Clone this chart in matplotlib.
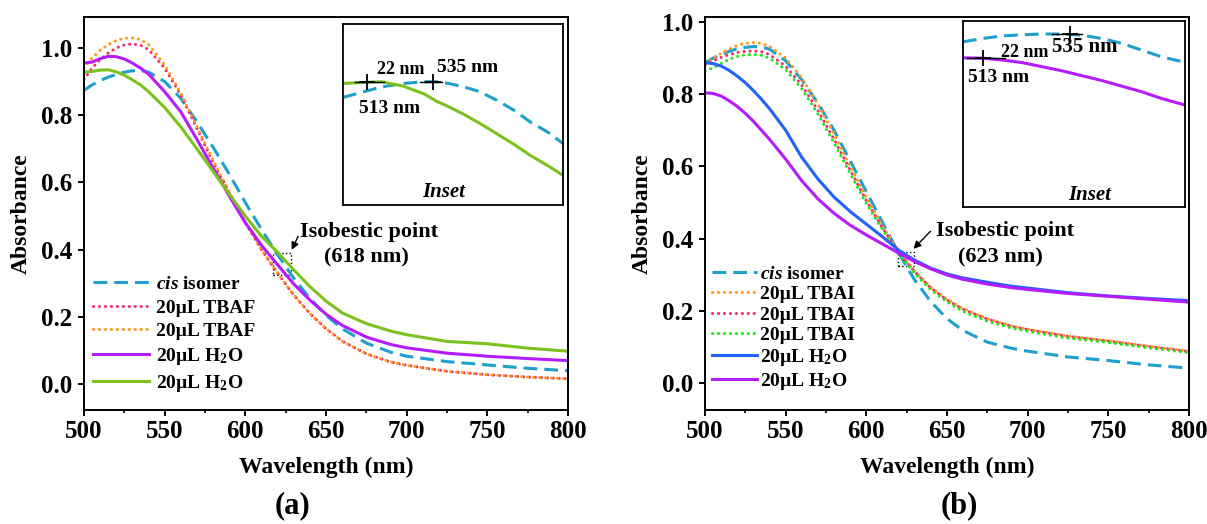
import numpy as np
import matplotlib
matplotlib.use("Agg")
import matplotlib.pyplot as plt
from matplotlib.patches import Rectangle
from matplotlib.ticker import MultipleLocator

# ---------------- data ----------------
wavelength = [500, 505, 510, 515, 520, 525, 530, 535, 540, 550, 560, 570, 580, 590,
              600, 610, 620, 630, 640, 650, 660, 675, 690, 700, 725, 750, 775, 800]

# panel (a)
cis_a = [0.874, 0.890, 0.903, 0.913, 0.921, 0.928, 0.932, 0.933, 0.928, 0.900, 0.850, 0.780, 0.705, 0.625,
         0.540, 0.460, 0.385, 0.315, 0.255, 0.205, 0.165, 0.122, 0.095, 0.083, 0.067, 0.057, 0.047, 0.040]
tbaf1_a = [0.906, 0.940, 0.965, 0.985, 1.000, 1.009, 1.012, 1.008, 0.995, 0.940, 0.860, 0.760, 0.660, 0.570,
           0.480, 0.400, 0.330, 0.265, 0.210, 0.165, 0.128, 0.090, 0.066, 0.056, 0.038, 0.028, 0.021, 0.016]
tbaf2_a = [0.940, 0.970, 0.993, 1.010, 1.022, 1.029, 1.030, 1.025, 1.010, 0.950, 0.865, 0.765, 0.665, 0.572,
           0.482, 0.400, 0.330, 0.265, 0.210, 0.165, 0.128, 0.090, 0.066, 0.056, 0.038, 0.028, 0.021, 0.016]
h2o1_a = [0.955, 0.958, 0.968, 0.975, 0.974, 0.967, 0.955, 0.940, 0.922, 0.870, 0.810, 0.728, 0.643, 0.560,
          0.480, 0.413, 0.355, 0.298, 0.250, 0.208, 0.175, 0.140, 0.118, 0.108, 0.092, 0.083, 0.076, 0.070]
h2o2_a = [0.928, 0.930, 0.934, 0.935, 0.929, 0.919, 0.905, 0.890, 0.870, 0.823, 0.765, 0.700, 0.633, 0.565,
          0.500, 0.440, 0.392, 0.340, 0.290, 0.247, 0.212, 0.180, 0.158, 0.147, 0.127, 0.120, 0.107, 0.098]

# panel (b)
cis_b = [0.887, 0.900, 0.910, 0.919, 0.926, 0.930, 0.932, 0.931, 0.925, 0.893, 0.840, 0.775, 0.700, 0.615,
         0.530, 0.445, 0.360, 0.285, 0.225, 0.178, 0.145, 0.113, 0.096, 0.088, 0.072, 0.062, 0.050, 0.041]
tbai1_b = [0.884, 0.900, 0.913, 0.925, 0.935, 0.941, 0.943, 0.941, 0.933, 0.900, 0.845, 0.772, 0.690, 0.600,
           0.515, 0.435, 0.365, 0.310, 0.265, 0.232, 0.206, 0.178, 0.158, 0.149, 0.130, 0.117, 0.102, 0.088]
tbai2_b = [0.880, 0.892, 0.902, 0.910, 0.916, 0.919, 0.920, 0.918, 0.910, 0.878, 0.825, 0.755, 0.675, 0.590,
           0.505, 0.430, 0.362, 0.308, 0.263, 0.230, 0.204, 0.177, 0.157, 0.148, 0.129, 0.116, 0.101, 0.087]
tbai3_b = [0.865, 0.873, 0.885, 0.897, 0.905, 0.909, 0.910, 0.908, 0.900, 0.868, 0.815, 0.745, 0.665, 0.580,
           0.497, 0.425, 0.358, 0.303, 0.258, 0.225, 0.198, 0.171, 0.152, 0.143, 0.124, 0.112, 0.097, 0.084]
h2o1_b = [0.887, 0.885, 0.878, 0.866, 0.850, 0.832, 0.810, 0.786, 0.760, 0.700, 0.625, 0.565, 0.515, 0.475,
          0.440, 0.405, 0.368, 0.340, 0.318, 0.302, 0.291, 0.279, 0.268, 0.263, 0.250, 0.241, 0.234, 0.228]
h2o2_b = [0.804, 0.802, 0.795, 0.782, 0.766, 0.747, 0.725, 0.700, 0.675, 0.620, 0.560, 0.510, 0.470, 0.437,
          0.410, 0.385, 0.360, 0.336, 0.316, 0.299, 0.287, 0.274, 0.264, 0.259, 0.248, 0.240, 0.232, 0.224]

# insets: close-up of the band maxima
inset_wl_a = [505, 512, 518, 525, 532, 536, 540, 545, 550, 556, 562, 567, 573, 578]
inset_cis_a = [0.885, 0.902, 0.916, 0.926, 0.931, 0.931, 0.926, 0.916, 0.903, 0.877, 0.846, 0.814, 0.783, 0.750]
inset_h2o_a = [0.926, 0.929, 0.931, 0.918, 0.895, 0.874, 0.858, 0.836, 0.811, 0.779, 0.746, 0.716, 0.685, 0.657]

inset_wl_b = [508, 513, 518, 523, 528, 533, 538, 543, 548, 553, 558, 564]
inset_cis_b = [0.944, 0.953, 0.960, 0.963, 0.965, 0.965, 0.962, 0.953, 0.940, 0.922, 0.904, 0.889]
inset_h2o_b = [0.901, 0.900, 0.895, 0.888, 0.877, 0.866, 0.853, 0.840, 0.825, 0.810, 0.792, 0.774]

peak_wl = [513, 535]          # band maxima marked in the insets
peak_shift = 22               # nm
isobestic_a = 618
isobestic_b = 623

x_ticks = [500, 550, 600, 650, 700, 750, 800]
y_ticks = [0.0, 0.2, 0.4, 0.6, 0.8, 1.0]

# ---------------- style ----------------
plt.rcParams.update({
    "font.family": ["Liberation Serif", "DejaVu Serif"],
    "font.weight": "bold",
    "mathtext.fontset": "custom",
    "mathtext.rm": "Liberation Serif:bold",
    "mathtext.bf": "Liberation Serif:bold",
    "mathtext.it": "Liberation Serif:italic:bold",
    "axes.linewidth": 1.4,
})

CYAN = "#1f9fcb"
RED = "#f0306a"
ORANGE = "#ff9a1e"
MAGENTA = "#b41cff"
LIME = "#7cc21e"
GREEN = "#22e622"
BLUE = "#2262ff"

LW = 2.2
DASH = (0, (4.5, 2.3))
DOT = (0, (0.05, 1.9))

H2O = r"20µL H$_{\mathbf{2}}$O"
CIS = r"$\it{cis}$ isomer"

W, H = 1207, 524
fig = plt.figure(figsize=(W / 100, H / 100), dpi=100)


def px_axes(x0, y0, x1, y1):
    return fig.add_axes([x0 / W, 1 - y1 / H, (x1 - x0) / W, (y1 - y0) / H])


def style_main(ax, ylim):
    ax.set_xlim(500, 800)
    ax.set_ylim(*ylim)
    ax.set_xticks(x_ticks)
    ax.set_yticks(y_ticks)
    ax.set_yticklabels([f"{v:.1f}" for v in y_ticks])
    ax.xaxis.set_minor_locator(MultipleLocator(25))
    ax.tick_params(axis="both", which="major", direction="out", length=4.5, width=1.4,
                   labelsize=18, pad=3)
    ax.tick_params(axis="x", which="minor", direction="out", length=2.5, width=1.2)
    ax.tick_params(axis="y", which="major", pad=4)
    ax.set_xlabel("Wavelength (nm)", fontsize=17, fontweight="bold", va="center")
    ax.set_ylabel("Absorbance", fontsize=17, fontweight="bold", va="center")
    ax.xaxis.set_label_coords(0.5, -0.145)
    ax.yaxis.set_label_coords(-0.130, 0.5)


def line(ax, y, color, ls, label=None, x=wavelength):
    kw = dict(color=color, lw=LW, label=label)
    if ls == "dot":
        ax.plot(x, y, linestyle=DOT, dash_capstyle="round", **kw)
    elif ls == "dash":
        ax.plot(x, y, linestyle=DASH, **kw)
    else:
        ax.plot(x, y, linestyle="-", **kw)


def style_inset(ax):
    ax.set_xticks([])
    ax.set_yticks([])
    for s in ax.spines.values():
        s.set_linewidth(1.3)


def peak_marks(ax, x, y_first, y_second):
    ya = np.interp(peak_wl[0], x, y_first)
    yb = np.interp(peak_wl[1], x, y_second)
    ax.plot([peak_wl[0] - 4, peak_wl[0] + 5.5], [ya, ya], color="k", lw=1.0)
    ax.plot([peak_wl[1] - 4.5, peak_wl[1] + 3], [yb, yb], color="k", lw=1.0)
    ax.plot(peak_wl, [ya, yb], linestyle="none", marker="+", ms=11, mew=1.3, color="k")


# ---------------- panel (a) ----------------
ax_a = px_axes(84, 17, 568, 410)
line(ax_a, cis_a, CYAN, "dash", CIS)
line(ax_a, tbaf1_a, RED, "dot", "20µL TBAF")
line(ax_a, tbaf2_a, ORANGE, "dot", "20µL TBAF")
line(ax_a, h2o1_a, MAGENTA, "solid", H2O)
line(ax_a, h2o2_a, LIME, "solid", H2O)
style_main(ax_a, (-0.077, 1.092))
ax_a.legend(loc="lower left", bbox_to_anchor=(0.0196, 0.040), frameon=False,
            fontsize=14, handlelength=2.85, handletextpad=0.35, labelspacing=0.31,
            borderpad=0, borderaxespad=0)

ax_a.add_patch(Rectangle((isobestic_a - 1, 0.325), 11, 0.065, fill=False,
                         ls=":", lw=1.0, ec="k"))
ax_a.text(677, 0.452, "Isobestic point", ha="center", va="center", fontsize=16)
ax_a.text(675, 0.376, f"({isobestic_a} nm)", ha="center", va="center", fontsize=16)
ax_a.annotate("", xy=(628, 0.392), xytext=(633.5, 0.447),
              arrowprops=dict(arrowstyle="-|>", color="k", lw=1.0, mutation_scale=11))

ins_a = px_axes(343, 24, 563, 205)
line(ins_a, inset_cis_a, CYAN, "dash", x=inset_wl_a)
line(ins_a, inset_h2o_a, LIME, "solid", x=inset_wl_a)
ins_a.set_xlim(505, 578)
ins_a.set_ylim(0.57, 1.10)
style_inset(ins_a)
peak_marks(ins_a, inset_wl_a, inset_h2o_a, inset_cis_a)
ins_a.text(524, 0.967, f"{peak_shift} nm", ha="center", va="center", fontsize=13)
ins_a.text(546.3, 0.974, f"{peak_wl[1]} nm", ha="center", va="center", fontsize=14)
ins_a.text(520.4, 0.854, f"{peak_wl[0]} nm", ha="center", va="center", fontsize=14)
ins_a.text(0.459, 0.072, "Inset", transform=ins_a.transAxes, ha="center", va="center",
           fontsize=15, fontstyle="italic")

fig.text(293 / W, 1 - 506 / H, "(a)", ha="center", va="center", fontsize=22)

# ---------------- panel (b) ----------------
ax_b = px_axes(705, 17, 1189, 410)
line(ax_b, cis_b, CYAN, "dash", CIS)
line(ax_b, tbai1_b, ORANGE, "dot", "20µL TBAI")
line(ax_b, tbai2_b, RED, "dot", "20µL TBAI")
line(ax_b, tbai3_b, GREEN, "dot", "20µL TBAI")
line(ax_b, h2o1_b, BLUE, "solid", H2O)
line(ax_b, h2o2_b, MAGENTA, "solid", H2O)
style_main(ax_b, (-0.075, 1.014))
ax_b.legend(loc="lower left", bbox_to_anchor=(0.0145, 0.046), frameon=False,
            fontsize=14, handlelength=2.3, handletextpad=0.15, labelspacing=0.15,
            borderpad=0, borderaxespad=0)

ax_b.add_patch(Rectangle((isobestic_b - 3.6, 0.324), 9.9, 0.040, fill=False,
                         ls=":", lw=1.0, ec="k"))
ax_b.text(685.8, 0.422, "Isobestic point", ha="center", va="center", fontsize=16)
ax_b.text(683, 0.348, f"({isobestic_b} nm)", ha="center", va="center", fontsize=16)
ax_b.annotate("", xy=(628, 0.366), xytext=(641, 0.426),
              arrowprops=dict(arrowstyle="-|>", color="k", lw=1.0, mutation_scale=11))

ins_b = px_axes(963, 21, 1185, 207)
line(ins_b, inset_cis_b, CYAN, "dash", x=inset_wl_b)
line(ins_b, inset_h2o_b, MAGENTA, "solid", x=inset_wl_b)
ins_b.set_xlim(508, 564)
ins_b.set_ylim(0.50, 1.00)
style_inset(ins_b)
peak_marks(ins_b, inset_wl_b, inset_h2o_b, inset_cis_b)
ins_b.text(523.7, 0.915, f"{peak_shift} nm", ha="center", va="center", fontsize=13)
ins_b.text(538.7, 0.931, f"{peak_wl[1]} nm", ha="center", va="center", fontsize=15)
ins_b.text(517, 0.848, f"{peak_wl[0]} nm", ha="center", va="center", fontsize=14)
ins_b.text(0.572, 0.062, "Inset", transform=ins_b.transAxes, ha="center", va="center",
           fontsize=15, fontstyle="italic")

fig.text(959 / W, 1 - 506 / H, "(b)", ha="center", va="center", fontsize=22)

fig.savefig("out.png", dpi=100)
